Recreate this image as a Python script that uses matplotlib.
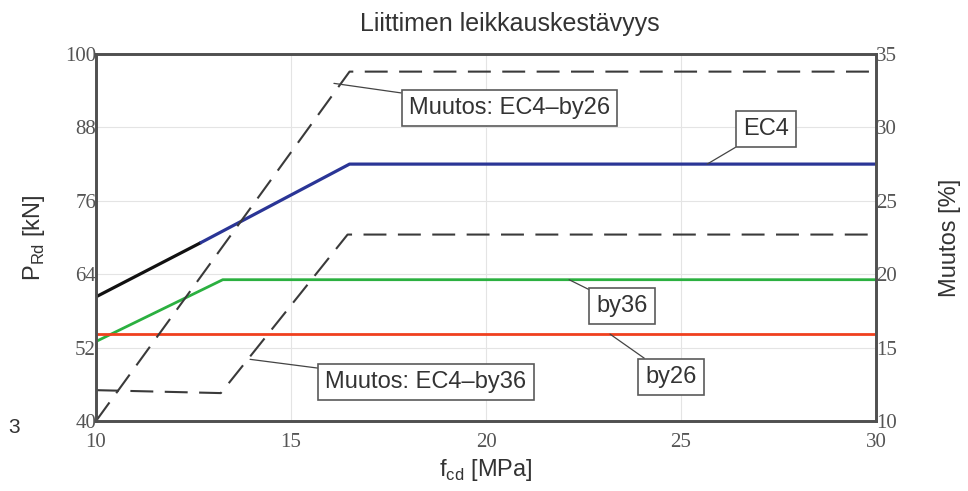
import matplotlib.pyplot as plt

# shear resistance P_Rd [kN] vs f_cd [MPa]
ec4_low_x = [10, 12.7]
ec4_low_y = [60.3, 69.2]
ec4_x = [12.7, 16.5, 30]
ec4_y = [69.2, 82.0, 82.0]
by36_x = [10, 13.25, 30]
by36_y = [53.0, 63.1, 63.1]
by26_x = [10, 30]
by26_y = [54.2, 54.2]

# relative change [%]
muutos_by26_x = [10, 16.5, 30]
muutos_by26_y = [10.0, 33.8, 33.8]
muutos_by36_x = [10, 13.2, 16.45, 30]
muutos_by36_y = [12.1, 11.9, 22.7, 22.7]

x_ticks = [10, 15, 20, 25, 30]
left_ticks = [40, 52, 64, 76, 88, 100]
right_ticks = [10, 15, 20, 25, 30, 35]

serif = "Liberation Serif"
sans = "Liberation Sans"

fig = plt.figure(figsize=(9.68, 4.91), dpi=100)
ax = fig.add_axes([0.0992, 0.1426, 0.8058, 0.7474])
ax2 = ax.twinx()

ax.plot(ec4_low_x, ec4_low_y, color="#111111", lw=2.3, solid_capstyle="butt")
ax.plot(ec4_x, ec4_y, color="#2a3596", lw=2.3)
ax.plot(by36_x, by36_y, color="#2bb040", lw=2.0)
ax.plot(by26_x, by26_y, color="#f0401e", lw=2.0)

dash = (11, 5.5)
ax2.plot(muutos_by26_x, muutos_by26_y, color="#3a3a3a", lw=1.5, dashes=dash)
ax2.plot(muutos_by36_x, muutos_by36_y, color="#3a3a3a", lw=1.5, dashes=dash)

ax.set_xlim(10, 30)
ax.set_ylim(40, 100)
ax2.set_ylim(10, 35)
ax.set_xticks(x_ticks)
ax.set_yticks(left_ticks)
ax2.set_yticks(right_ticks)
ax.grid(True, color="#e4e4e4", lw=0.8)
ax.set_axisbelow(True)

for a in (ax, ax2):
    a.tick_params(length=0, labelsize=15, labelcolor="#555555", pad=0)
    for lab in a.get_xticklabels() + a.get_yticklabels():
        lab.set_fontfamily(serif)
    for s in a.spines.values():
        s.set_color("#505050")
        s.set_linewidth(1.9)
ax.tick_params(axis="x", pad=9)

ax.set_xlabel("f$_{\\mathregular{cd}}$ [MPa]", fontfamily=sans, fontsize=17,
              color="#333333", labelpad=3)
ax.set_ylabel("P$_{\\mathregular{Rd}}$ [kN]", fontfamily=sans, fontsize=17,
              color="#333333", labelpad=13)
ax2.set_ylabel("Muutos [%]", fontfamily=sans, fontsize=17, color="#333333",
               labelpad=30)
fig.suptitle("Liittimen leikkauskestävyys", fontfamily=sans, fontsize=18,
             color="#333333", x=0.527, y=0.975)
fig.text(0.009, 0.118, "3", fontfamily=sans, fontsize=15, color="#333333")

box = dict(boxstyle="square,pad=0.3", fc="white", ec="#5a5a5a", lw=1.2)
line = dict(arrowstyle="-", color="#444444", lw=0.9, shrinkA=0, shrinkB=0)
labels = [
    (ax, "EC4", (25.67, 82.0), (27.18, 87.7)),
    (ax, "by36", (22.13, 63.1), (23.49, 58.8)),
    (ax, "by26", (23.18, 54.2), (24.74, 47.2)),
    (ax2, "Muutos: EC4–by26", (16.1, 33.0), (20.6, 31.3)),
    (ax2, "Muutos: EC4–by36", (13.95, 14.2), (18.46, 12.65)),
]
for a, text, xy, xytext in labels:
    a.annotate(text, xy=xy, xytext=xytext, ha="center", va="center",
               fontfamily=sans, fontsize=17, color="#333333",
               bbox=box, arrowprops=line)

fig.savefig("out.png", dpi=100)
